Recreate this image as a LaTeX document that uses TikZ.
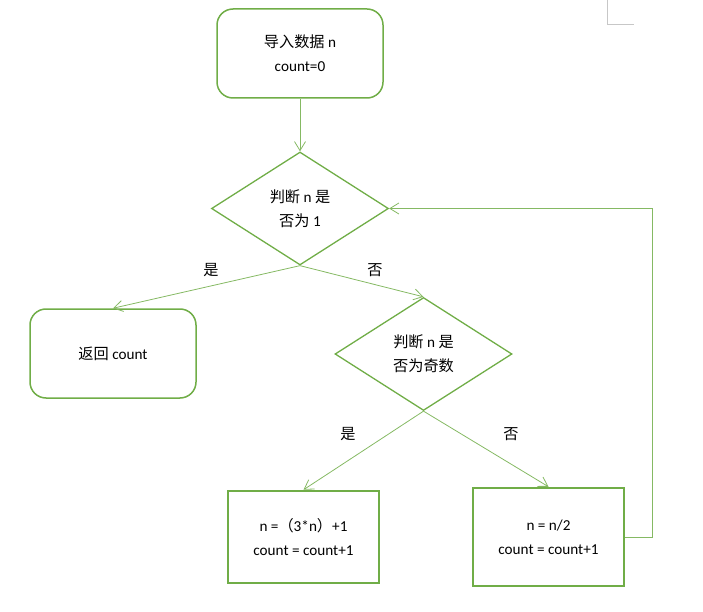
\documentclass[tikz,border=0pt]{standalone}
\usepackage{fontspec}
\setmainfont{Carlito}
\newfontfamily\cjk{Noto Sans CJK SC}
\usetikzlibrary{shapes.geometric, arrows.meta}
\definecolor{flowgreen}{RGB}{112,173,71}

\begin{document}
\begin{tikzpicture}[x=1pt, y=-1pt, line width=1pt,
    font=\fontsize{15.2}{24}\selectfont,
    startbox/.style={draw=flowgreen, line width=1.5pt, rounded corners=16pt,
      minimum width=166pt, minimum height=89pt, align=center},
    decision/.style={draw=flowgreen, line width=1.3pt, diamond, aspect=1.57,
      inner sep=0pt, minimum width=177pt, minimum height=113pt, align=center},
    stepbox/.style={draw=flowgreen, line width=2.5pt, minimum width=151pt,
      align=center},
    flow/.style={draw=flowgreen!85, line width=0.8pt,
      -{Straight Barb[length=9pt, width=11pt]}}]
    \useasboundingbox (0, 0) rectangle (703, 612);

    % draw page corner mark
    \draw[color=black!22] (607, 0) -- (607, 25) -- (634, 25);

    % draw boxes
    \node[startbox] (load) at (300, 53.5) {{\cjk 导入数据} n\\count=0};
    \node[decision] (isone) at (300, 208.5) {{\cjk 判断} n {\cjk 是}\\{\cjk 否为} 1};
    \node[startbox] (ret) at (113, 353.5) {{\cjk 返回} count};
    \node[decision] (isodd) at (423.5, 354) {{\cjk 判断} n {\cjk 是}\\{\cjk 否为奇数}};
    \node[stepbox, minimum height=92pt] (odd) at (303.5, 537)
      {n ={\cjk （}3*n{\cjk ）}+1\\count = count+1};
    \node[stepbox, minimum height=98pt] (even) at (548.5, 537)
      {n = n/2\\count = count+1};

    % draw connectors
    \draw[flow] (load.south) -- (isone.north);
    \draw[flow] (isone.south) -- (ret.north);
    \draw[flow] (isone.south) -- (isodd.north);
    \draw[flow] (isodd.south) -- (odd.north);
    \draw[flow] (isodd.south) -- (even.north);
    \draw[flow] (even.east) -- ++(27, 0) |- (isone.east);

    % draw labels
    \node (yesone) at (211, 270) {\cjk 是};
    \node (noone) at (375, 270) {\cjk 否};
    \node (yesodd) at (348, 434) {\cjk 是};
    \node (noodd) at (511, 434) {\cjk 否};

\end{tikzpicture}
\end{document}
